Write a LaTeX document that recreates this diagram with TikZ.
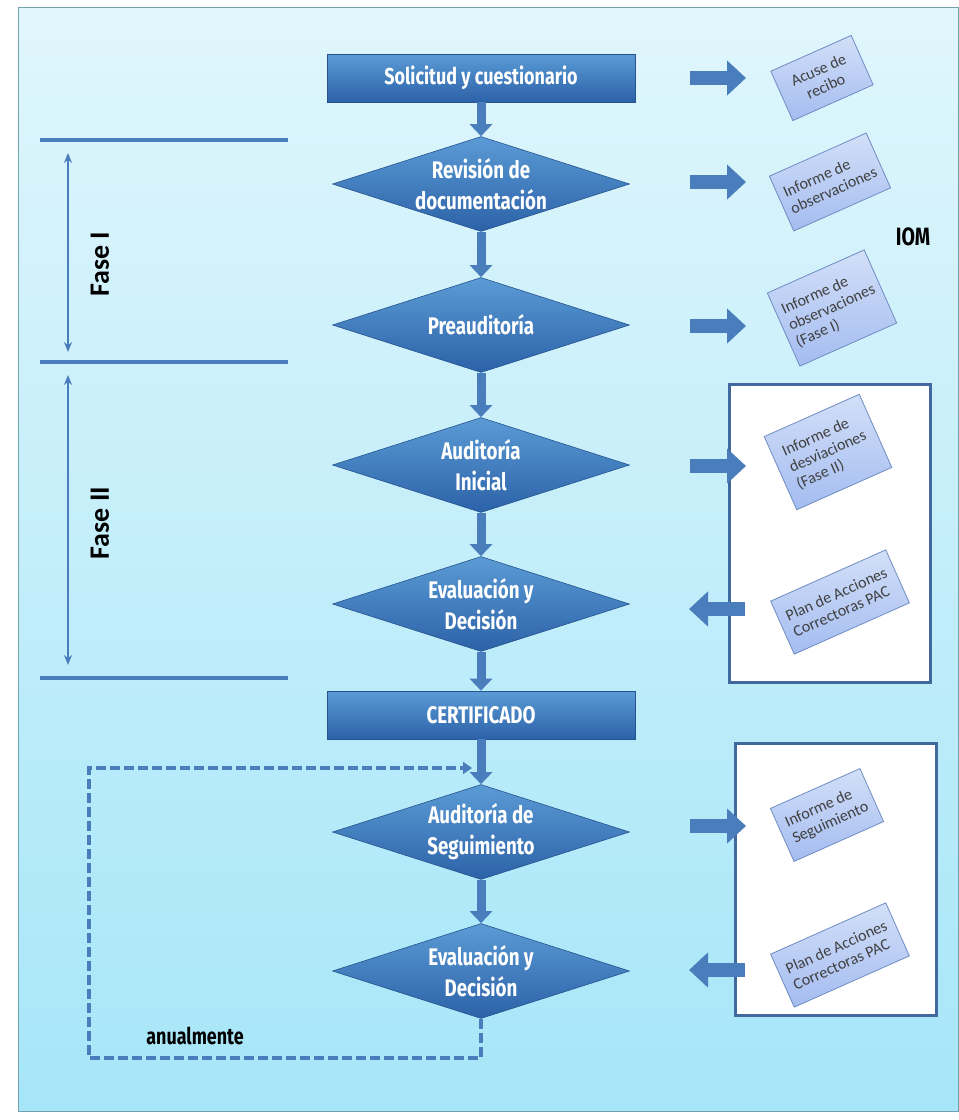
\documentclass[tikz,border=0pt]{standalone}
\usepackage{fontspec}
\setmainfont{Carlito}
\newfontfamily\condf[FakeStretch=0.78]{Fira Sans}
\usetikzlibrary{shapes.geometric,arrows.meta}
\definecolor{bgtop}{HTML}{E0F6FC}
\definecolor{bgbot}{HTML}{A6E6F8}
\definecolor{flowc}{HTML}{4A7DBB}
\definecolor{dtop}{HTML}{5B9BD5}
\definecolor{dbot}{HTML}{2C62A8}
\definecolor{doct}{HTML}{D2DFF8}
\definecolor{docbot}{HTML}{A4BCF0}
\definecolor{docb}{HTML}{6F8CC4}
\definecolor{boxc}{HTML}{41699F}
\begin{document}
\begin{tikzpicture}[x=1pt,y=-1pt,
  proc/.style={rectangle, minimum width=308pt, minimum height=48pt, inner sep=0pt,
    top color=dtop, bottom color=dbot, draw=dbot!85!black, line width=0.6pt,
    font=\condf\bfseries\fontsize{23}{27}\selectfont, text=white},
  dec/.style={diamond, aspect=3.1, minimum width=297pt, minimum height=95pt, inner sep=0pt,
    top color=dtop, bottom color=dbot, draw=dbot!85!black, line width=0.6pt,
    font=\condf\bfseries\fontsize{24}{31}\selectfont, text=white, align=center},
  flow/.style={draw=flowc, line width=9pt, -{Triangle[width=22pt,length=12pt]}},
  blockarr/.style={draw=flowc, line width=14pt, -{Triangle[width=34pt,length=19pt]}},
  doc/.style={rectangle, rotate=24, draw=docb, line width=0.8pt, top color=doct,
    bottom color=docbot, font=\fontsize{16}{18}\selectfont, text=black!75,
    align=left, inner sep=1pt},
  phaseline/.style={draw=flowc, line width=3.5pt},
  spanarr/.style={draw=flowc, line width=1.8pt, {Stealth[length=10pt,width=8pt]}-{Stealth[length=10pt,width=8pt]}},
  wbox/.style={draw=boxc, line width=3pt, fill=white},
  loopline/.style={draw=flowc, line width=3.5pt, dash pattern=on 10pt off 4pt, -{Triangle[width=12pt,length=9pt]}},
  lab/.style={font=\bfseries\fontsize{28}{30}\selectfont, text=black},
  clab/.style={font=\condf\bfseries\fontsize{23}{26}\selectfont, text=black}]
\useasboundingbox (0,0) rectangle (959,1120);
% background
\fill[white] (0,0) rectangle (959,1120);
\shade[top color=bgtop, bottom color=bgbot, draw=black!30!bgbot, line width=0.8pt] (18,7) rectangle (958,1111);
% white side boxes
\draw[wbox] (729,384) rectangle (930,682);
\draw[wbox] (735,743) rectangle (936,1015);
% phase lines
\coordinate (p1a) at (40,140); \coordinate (p1b) at (288,140);
\coordinate (p2a) at (40,362); \coordinate (p2b) at (288,362);
\coordinate (p3a) at (40,678); \coordinate (p3b) at (288,678);
\draw[phaseline] (p1a) -- (p1b);
\draw[phaseline] (p2a) -- (p2b);
\draw[phaseline] (p3a) -- (p3b);
\coordinate (f1t) at (68,153); \coordinate (f1b) at (68,352);
\coordinate (f2t) at (68,375); \coordinate (f2b) at (68,665);
\draw[spanarr] (f1t) -- (f1b);
\draw[spanarr] (f2t) -- (f2b);
\node[lab, rotate=90] (fase1) at (100,264) {Fase I};
\node[lab, rotate=90] (fase2) at (100,523) {Fase II};
% main flow
\node[proc] (b1) at (481,78) {Solicitud y cuestionario};
\node[dec] (d1) at (481,184) {Revisión de\\documentación};
\node[dec] (d2) at (481,325) {Preauditoría};
\node[dec] (d3) at (481,465) {Auditoría\\Inicial};
\node[dec] (d4) at (481,604) {Evaluación y\\Decisión};
\node[proc, font=\condf\bfseries\fontsize{24}{27}\selectfont] (cert) at (481,715) {CERTIFICADO};
\node[dec] (d5) at (481,832) {Auditoría de\\Seguimiento};
\node[dec] (d6) at (481,971) {Evaluación y\\Decisión};
\draw[flow] (b1.south) -- (d1.north);
\draw[flow] (d1.south) -- (d2.north);
\draw[flow] (d2.south) -- (d3.north);
\draw[flow] (d3.south) -- (d4.north);
\draw[flow] (d4.south) -- (cert.north);
\draw[flow] (cert.south) -- (d5.north);
\draw[flow] (d5.south) -- (d6.north);
% annual loop
\coordinate (lb) at (89,1058);
\coordinate (lt) at (89,768);
\coordinate (le) at (472,768);
\draw[loopline] (d6.south) |- (lb) -- (lt) -- (le);
\node[clab] (anual) at (195,1036) {anualmente};
% documents
\node[doc, align=center, minimum width=88pt, minimum height=54pt] (o1) at (822,78) {Acuse de\\recibo};
\node[doc, minimum width=106pt, minimum height=60pt] (o2) at (830,182) {Informe de\\observaciones};
\node[doc, minimum width=106pt, minimum height=80pt] (o3) at (832,308) {Informe de\\observaciones\\(Fase I)};
\node[doc, minimum width=104pt, minimum height=80pt] (o4) at (828,452) {Informe de\\desviaciones\\(Fase II)};
\node[doc, minimum width=126pt, minimum height=58pt] (o5) at (840,602) {Plan de Acciones\\Correctoras PAC};
\node[doc, minimum width=98pt, minimum height=58pt] (o6) at (827,815) {Informe de\\Seguimiento};
\node[doc, minimum width=126pt, minimum height=58pt] (o7) at (840,955) {Plan de Acciones\\Correctoras PAC};
\node[clab, font=\condf\bfseries\fontsize{25}{28}\selectfont] (iom) at (913,237) {IOM};
% side block arrows
\coordinate (a1s) at (690,78);  \coordinate (a1e) at (746,78);
\coordinate (a2s) at (690,182); \coordinate (a2e) at (746,182);
\coordinate (a3s) at (690,326); \coordinate (a3e) at (746,326);
\coordinate (a4s) at (690,466); \coordinate (a4e) at (746,466);
\coordinate (a5s) at (745,609); \coordinate (a5e) at (689,609);
\coordinate (a6s) at (690,826); \coordinate (a6e) at (746,826);
\coordinate (a7s) at (745,970); \coordinate (a7e) at (689,970);
\draw[blockarr] (a1s) -- (a1e);
\draw[blockarr] (a2s) -- (a2e);
\draw[blockarr] (a3s) -- (a3e);
\draw[blockarr] (a4s) -- (a4e);
\draw[blockarr] (a5s) -- (a5e);
\draw[blockarr] (a6s) -- (a6e);
\draw[blockarr] (a7s) -- (a7e);
\end{tikzpicture}
\end{document}
